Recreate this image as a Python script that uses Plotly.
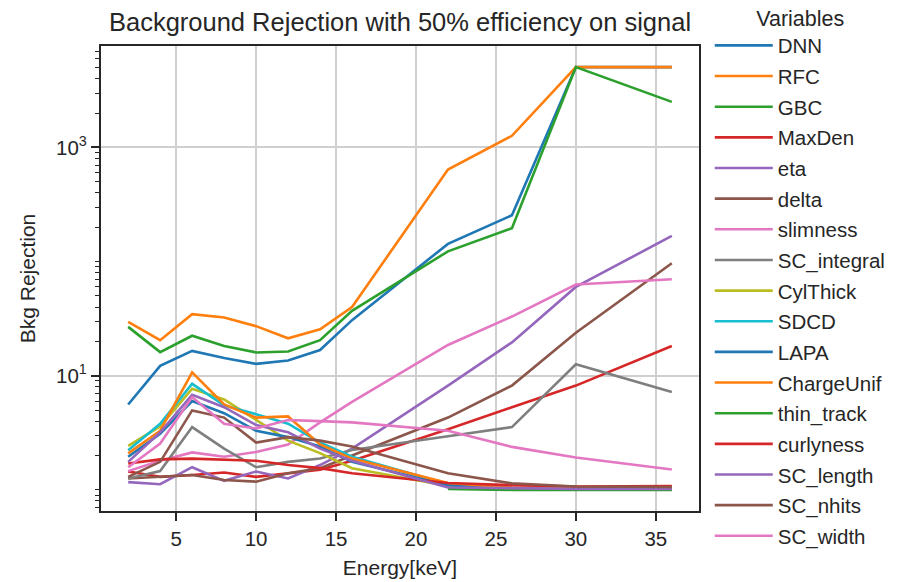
import plotly.graph_objects as go

energy = [2, 4, 6, 8, 10, 12, 14, 16, 22, 26, 30, 36]

DNN = [5.6, 12.2, 16.5, 14.3, 12.7, 13.6, 16.8, 30.7, 143, 255, 5060, 5060]
RFC = [29.7, 20.5, 34.6, 32.4, 27.2, 21.3, 25.5, 40, 640, 1265, 5060, 5060]
GBC = [26.8, 16.1, 22.4, 18.2, 16.0, 16.3, 20.5, 37, 123, 196, 5060, 2510]
MaxDen = [1.45, 1.3, 1.35, 1.42, 1.3, 1.4, 1.5, 1.8, 3.4, 5.3, 8.2, 18.2]
eta = [1.17, 1.12, 1.58, 1.2, 1.45, 1.26, 1.65, 2.3, 8.2, 19.6, 60, 168]
delta = [1.26, 1.3, 1.35, 1.22, 1.18, 1.4, 1.55, 2.0, 4.3, 8.2, 23.8, 96.6]
slimness = [1.46, 1.8, 2.13, 1.95, 2.15, 2.5, 3.9, 5.9, 18.6, 33, 63, 70]
SC_integral = [1.26, 1.46, 3.55, 2.3, 1.58, 1.76, 1.88, 2.24, 2.95, 3.55, 12.6, 7.2]
CylThick = [2.43, 3.6, 7.7, 6.2, 4.1, 2.7, 2.1, 1.55, 1.08, 1.03, 1.02, 1.02]
SDCD = [2.23, 3.8, 8.5, 5.5, 4.6, 3.8, 2.6, 1.95, 1.12, 1.04, 1.02, 1.02]
LAPA = [1.95, 3.1, 6.0, 4.7, 3.3, 2.9, 2.4, 1.76, 1.1, 1.04, 1.02, 1.02]
ChargeUnif = [2.09, 3.3, 10.7, 5.6, 4.3, 4.4, 2.5, 1.88, 1.15, 1.05, 1.03, 1.03]
thin_track = [None, None, None, None, None, None, None, None, 1.02, 1.0, 1.0, 1.0]
curlyness = [1.7, 1.85, 1.88, 1.85, 1.8, 1.65, 1.55, 1.4, 1.15, 1.1, 1.07, 1.08]
SC_length = [1.76, 3.2, 6.8, 5.3, 3.7, 3.2, 2.3, 1.8, 1.05, 1.03, 1.02, 1.02]
SC_nhits = [1.3, 1.76, 4.97, 4.3, 2.6, 2.9, 2.7, 2.4, 1.4, 1.14, 1.07, 1.06]
SC_width = [1.58, 2.55, 6.5, 3.8, 3.45, 4.1, 4.0, 3.9, 3.3, 2.38, 1.92, 1.51]

series_names = ["DNN", "RFC", "GBC", "MaxDen", "eta", "delta", "slimness",
                "SC_integral", "CylThick", "SDCD", "LAPA", "ChargeUnif",
                "thin_track", "curlyness", "SC_length", "SC_nhits", "SC_width"]
series_values = [DNN, RFC, GBC, MaxDen, eta, delta, slimness, SC_integral,
                 CylThick, SDCD, LAPA, ChargeUnif, thin_track, curlyness,
                 SC_length, SC_nhits, SC_width]

palette = ["#1f77b4", "#ff7f0e", "#2ca02c", "#d62728", "#9467bd",
           "#8c564b", "#e377c2", "#7f7f7f", "#bcbd22", "#17becf"]

x_ticks = [5, 10, 15, 20, 25, 30, 35]
y_ticks = [10, 1000]
y_ticktext = ["10<sup>1</sup>", "10<sup>3</sup>"]
y_minor = [m * 10 ** k for k in range(-1, 4) for m in range(1, 10)]
y_minor = [v for v in y_minor if 0.64 < v < 7800]

FONT = "Liberation Sans, Arial, sans-serif"
TXT = "#262626"

fig = go.Figure()
for i, (name, vals) in enumerate(zip(series_names, series_values)):
    fig.add_trace(go.Scatter(
        x=energy, y=vals, name=name, mode="lines", legendgroup=name,
        line=dict(color=palette[i % 10], width=2.6),
        connectgaps=False,
    ))

fig.update_layout(
    width=906, height=582,
    margin=dict(l=101, r=207, t=46, b=71, autoexpand=False),
    paper_bgcolor="white", plot_bgcolor="white",
    font=dict(family=FONT, size=21, color=TXT),
    title=dict(text="Background Rejection with 50% efficiency on signal",
               x=(101 + 699) / 2 / 906, xanchor="center", y=0.962, yanchor="middle",
               font=dict(size=25.5, color=TXT)),
    legend=dict(
        title=dict(text="Variables", side="top center", font=dict(size=21.5, color=TXT)),
        x=1.018, xanchor="left", y=1.104, yanchor="top",
        font=dict(size=20.5, color=TXT), bgcolor="rgba(0,0,0,0)",
        itemwidth=58, tracegroupgap=1, maxheight=600,
    ),
    showlegend=True,
)

fig.update_xaxes(
    range=[0.3, 37.7], tickvals=x_ticks, ticks="outside", ticklen=8, tickwidth=1.8,
    tickcolor="#262626", showline=True, linecolor="#262626", linewidth=2.2, mirror=True,
    showgrid=True, gridcolor="#cfcfcf", gridwidth=1.6, zeroline=False,
    title=dict(text="Energy[keV]", font=dict(size=21, color=TXT), standoff=12),
    tickfont=dict(size=20.5, color=TXT),
)
fig.update_yaxes(
    type="log", range=[-0.185, 3.889], tickmode="array", tickvals=y_ticks,
    ticktext=y_ticktext, ticks="outside", ticklen=8, tickwidth=1.8, tickcolor="#262626",
    showline=True, linecolor="#262626", linewidth=2.2, mirror=True,
    showgrid=True, gridcolor="#cfcfcf", gridwidth=1.6, zeroline=False,
    minor=dict(tickmode="array", tickvals=y_minor, ticks="outside", ticklen=4,
               tickwidth=1.2, tickcolor="#262626", showgrid=False),
    title=dict(text="Bkg Rejection", font=dict(size=21, color=TXT), standoff=15),
    tickfont=dict(size=20.5, color=TXT),
)

fig.write_html("out.html")
